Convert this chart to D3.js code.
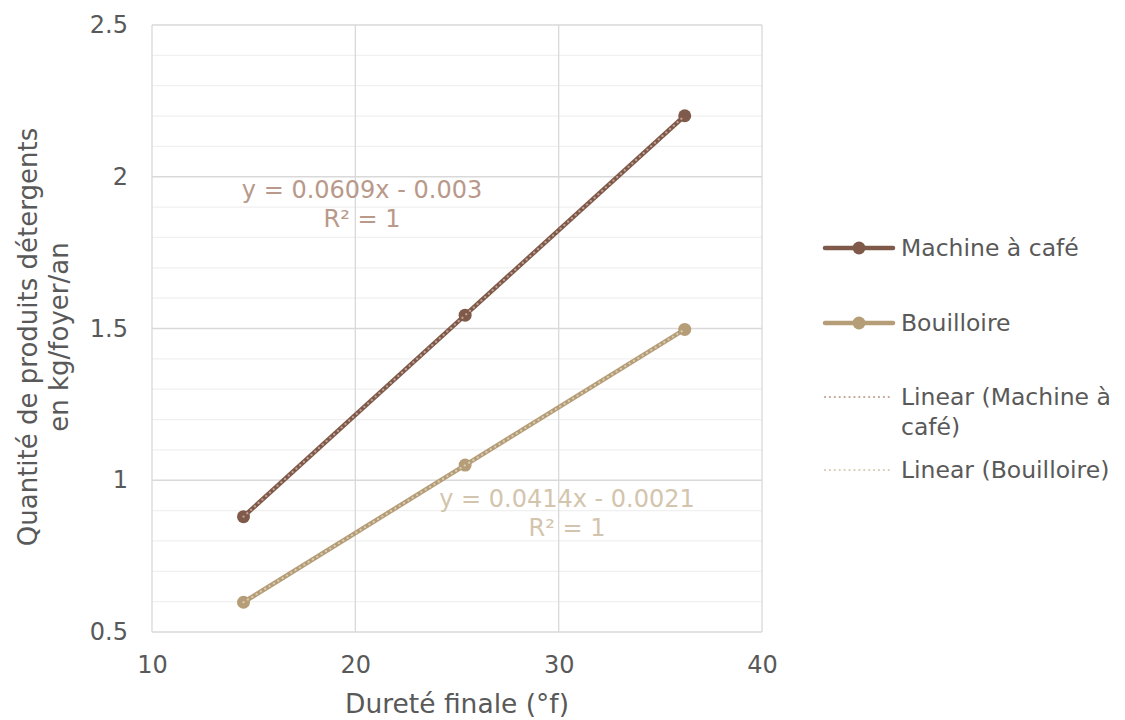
<!DOCTYPE html>
<html><head><meta charset="utf-8">
<script src="https://cdn.jsdelivr.net/npm/d3@7"></script>
<style>body{margin:0;background:#fff;} text{font-family:"DejaVu Sans",Verdana,sans-serif;}</style>
</head><body>
<svg id="c" width="1125" height="720"></svg>
<script>
const hardness = [14.5, 25.4, 36.2];
const machineValues = [0.88, 1.544, 2.201];
const kettleValues = [0.598, 1.05, 1.497];
const seriesNames = ["Machine à café", "Bouilloire"];
const trendNames = ["Linear (Machine à café)", "Linear (Bouilloire)"];
const machineEq = ["y = 0.0609x - 0.003", "R² = 1"];
const kettleEq = ["y = 0.0414x - 0.0021", "R² = 1"];
const xTicks = [10, 20, 30, 40];
const yTicks = [0.5, 1, 1.5, 2, 2.5];

const svg = d3.select("#c");
const x = d3.scaleLinear().domain([10, 40]).range([152, 762]);
const y = d3.scaleLinear().domain([0.5, 2.5]).range([632, 25]);

const colM = "#7f5a4a", colK = "#b59d78";
const trM = "#c1a497", trK = "#d9cbb2";
const eqM = "#b9998a", eqK = "#d3c5ad";
const txt = "#595959";

// minor gridlines
const minor = d3.range(0.6, 2.5, 0.1).filter(v => Math.abs(v*2 - Math.round(v*2)) > 1e-6);
svg.append("g").selectAll("line").data(minor).join("line")
  .attr("x1", x(10)).attr("x2", x(40)).attr("y1", d => y(d)).attr("y2", d => y(d))
  .attr("stroke", "#f0f0f0").attr("stroke-width", 1.3);
// major gridlines
svg.append("g").selectAll("line").data(yTicks).join("line")
  .attr("x1", x(10)).attr("x2", x(40)).attr("y1", d => y(d)).attr("y2", d => y(d))
  .attr("stroke", "#d9d9d9").attr("stroke-width", 1.3);
svg.append("g").selectAll("line").data(xTicks).join("line")
  .attr("y1", y(0.5)).attr("y2", y(2.5)).attr("x1", d => x(d)).attr("x2", d => x(d))
  .attr("stroke", "#d9d9d9").attr("stroke-width", 1.3);

// axes (labels only)
const xAxis = svg.append("g").attr("transform", `translate(0,${y(0.5)})`)
  .call(d3.axisBottom(x).tickValues(xTicks).tickSize(0).tickPadding(24).tickFormat(d3.format("d")));
xAxis.select(".domain").remove();
xAxis.selectAll("text").attr("font-size", 24).attr("fill", txt).style("font-family", "DejaVu Sans");
const yAxis = svg.append("g").attr("transform", `translate(${x(10)},0)`)
  .call(d3.axisLeft(y).tickValues(yTicks).tickSize(0).tickPadding(24).tickFormat(d => String(d)));
yAxis.select(".domain").remove();
yAxis.selectAll("text").attr("font-size", 24).attr("fill", txt).style("font-family", "DejaVu Sans");

// series
const line = d3.line().x(d => x(d[0])).y(d => y(d[1]));
function drawSeries(vals, col) {
  const pts = hardness.map((h, i) => [h, vals[i]]);
  svg.append("path").datum(pts).attr("d", line).attr("fill", "none")
    .attr("stroke", col).attr("stroke-width", 4.5).attr("stroke-linecap", "round");
  svg.append("g").selectAll("circle").data(pts).join("circle")
    .attr("cx", d => x(d[0])).attr("cy", d => y(d[1])).attr("r", 6.5).attr("fill", col);
}
function drawTrend(vals, trcol) {
  const mx = d3.mean(hardness), my = d3.mean(vals);
  const b = d3.sum(hardness.map((h, i) => (h - mx) * (vals[i] - my))) / d3.sum(hardness.map(h => (h - mx) ** 2));
  const a = my - b * mx;
  const ends = [d3.min(hardness), d3.max(hardness)].map(h => [h, a + b * h]);
  svg.append("path").datum(ends).attr("d", line).attr("fill", "none")
    .attr("stroke", trcol).attr("stroke-width", 2.2).attr("stroke-dasharray", "0.1 5")
    .attr("stroke-linecap", "round");
}
drawSeries(machineValues, colM);
drawSeries(kettleValues, colK);
drawTrend(machineValues, trM);
drawTrend(kettleValues, trK);

// equations
function eq(lines, cx, cy, col) {
  svg.append("g").selectAll("text").data(lines).join("text")
    .attr("x", cx).attr("y", (d, i) => cy + i * 29).attr("text-anchor", "middle")
    .attr("font-size", 24).attr("fill", col).text(d => d);
}
eq(machineEq, 362, 198, eqM);
eq(kettleEq, 567, 507, eqK);

// axis titles
svg.append("text").attr("x", 457).attr("y", 713).attr("text-anchor", "middle")
  .attr("font-size", 26.5).attr("fill", txt).text("Dureté finale (°f)");
const yt = svg.append("text").attr("transform", "translate(0,337) rotate(-90)")
  .attr("text-anchor", "middle").attr("font-size", 26).attr("fill", txt);
yt.append("tspan").attr("x", 0).attr("y", 37).text("Quantité de produits détergents");
yt.append("tspan").attr("x", 0).attr("y", 68).text("en kg/foyer/an");

// legend
const lg = svg.append("g");
const legItems = [
  {name: seriesNames[0], col: colM, type: "series", y: 248},
  {name: seriesNames[1], col: colK, type: "series", y: 323},
  {name: trendNames[0], col: trM, type: "trend", y: 397},
  {name: trendNames[1], col: trK, type: "trend", y: 470}
];
legItems.forEach(it => {
  if (it.type === "series") {
    lg.append("line").attr("x1", 825).attr("x2", 893).attr("y1", it.y).attr("y2", it.y)
      .attr("stroke", it.col).attr("stroke-width", 4.5).attr("stroke-linecap", "round");
    lg.append("circle").attr("cx", 859).attr("cy", it.y).attr("r", 6.5).attr("fill", it.col);
  } else {
    lg.append("line").attr("x1", 825).attr("x2", 893).attr("y1", it.y).attr("y2", it.y)
      .attr("stroke", it.col).attr("stroke-width", 2.2).attr("stroke-dasharray", "0.1 4.8").attr("stroke-linecap", "round");
  }
  const t = lg.append("text").attr("x", 901).attr("y", it.y + 8).attr("font-size", 23.5).attr("fill", txt);
  if (it.name === trendNames[0]) {
    t.append("tspan").attr("x", 901).text("Linear (Machine à");
    t.append("tspan").attr("x", 901).attr("dy", 30).text("café)");
  } else t.text(it.name);
});
</script>
</body></html>
